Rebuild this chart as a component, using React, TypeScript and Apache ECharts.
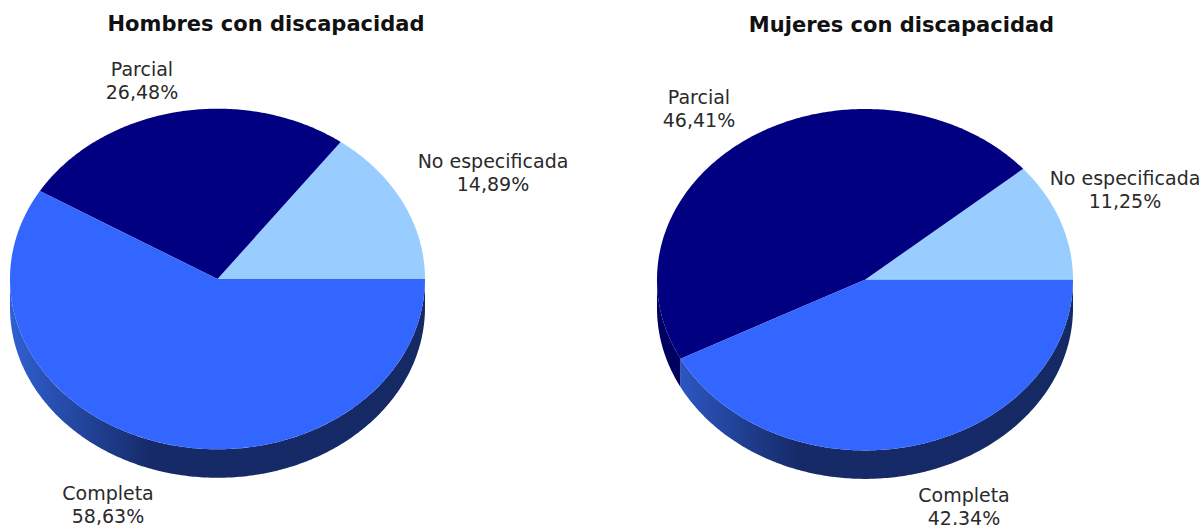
import React, { useEffect, useRef } from "react";
import * as echarts from "echarts";

const categories = ["No especificada", "Parcial", "Completa"];
const hombresValues = [14.89, 26.48, 58.63];
const mujeresValues = [11.25, 46.41, 42.34];
const chartTitles = ["Hombres con discapacidad", "Mujeres con discapacidad"];
const topColors = ["#99CCFF", "#000080", "#3366FF"];
const FONT = '"DejaVu Sans", Verdana, sans-serif';

const DEPTH = 28.5;

type Geo = { cx: number; cy: number; rx: number; ry: number };

function ellipsePoints(g: Geo, cy: number, a0: number, a1: number) {
  const n = Math.max(2, Math.ceil(Math.abs(a1 - a0) * 1.5));
  const pts: number[][] = [];
  for (let i = 0; i <= n; i++) {
    const a = ((a0 + ((a1 - a0) * i) / n) * Math.PI) / 180;
    pts.push([g.cx + g.rx * Math.cos(a), cy - g.ry * Math.sin(a)]);
  }
  return pts;
}

function wallFill(index: number, g: Geo) {
  if (index === 1) return "#00005E";
  return new echarts.graphic.LinearGradient(
    g.cx - g.rx, 0, g.cx + g.rx, 0,
    [
      { offset: 0, color: "#3060D2" },
      { offset: 0.34, color: "#162A68" },
      { offset: 1, color: "#152965" },
    ],
    true
  );
}

function pieSeries(values: number[], g: Geo, labelPos: number[][]) {
  const total = values.reduce((s, v) => s + v, 0);
  return {
    type: "custom",
    coordinateSystem: "none",
    silent: true,
    data: values,
    renderItem: (params: any, api: any) => {
      const i = params.dataIndex;
      const before = values.slice(0, i).reduce((s, v) => s + v, 0);
      const a0 = (before / total) * 360;
      const a1 = ((before + api.value(0)) / total) * 360;
      const children: any[] = [];
      const w0 = Math.max(a0, 180);
      if (a1 > 180) {
        const topEdge = ellipsePoints(g, g.cy, w0, a1);
        const bottomEdge = ellipsePoints(g, g.cy + DEPTH, a1, w0);
        children.push({
          type: "polygon",
          z2: 0,
          shape: { points: topEdge.concat(bottomEdge) },
          style: { fill: wallFill(i, g) },
        });
      }
      children.push({
        type: "polygon",
        z2: 1,
        shape: { points: [[g.cx, g.cy] as number[]].concat(ellipsePoints(g, g.cy, a0, a1)) },
        style: { fill: topColors[i] },
      });
      children.push({
        type: "text",
        z2: 2,
        x: labelPos[i][0],
        y: labelPos[i][1],
        style: {
          text: `${categories[i]}\n${api.value(0).toFixed(2).replace(".", ",")}%`,
          fill: "#2A2A2A",
          font: `19px ${FONT}`,
          lineHeight: 23,
          align: "center",
          verticalAlign: "middle",
        },
      });
      return { type: "group", children };
    },
  };
}

export default function App() {
  const ref = useRef<HTMLDivElement>(null);
  useEffect(() => {
    const chart = echarts.init(ref.current!, null, { renderer: "svg" });
    const titleBase = {
      textAlign: "center",
      textStyle: { color: "#111111", fontFamily: FONT, fontWeight: "bold", fontSize: 21 },
    };
    chart.setOption({
      animation: false,
      backgroundColor: "#FFFFFF",
      title: [
        { ...titleBase, text: chartTitles[0], left: 261, top: 8 },
        { ...titleBase, text: chartTitles[1], left: 896.5, top: 9 },
      ],
      series: [
        pieSeries(hombresValues, { cx: 217.5, cy: 279, rx: 207.5, ry: 170.3 }, [[493, 172], [142, 80], [108, 504]]),
        pieSeries(mujeresValues, { cx: 865, cy: 279.7, rx: 208, ry: 170.7 }, [[1125, 189], [699, 108], [964, 506]]),
      ],
    });
    return () => chart.dispose();
  }, []);
  return (
    <div
      ref={ref}
      style={{ position: "absolute", left: 0, top: 0, width: 1201, height: 525, overflow: "hidden" }}
    />
  );
}
